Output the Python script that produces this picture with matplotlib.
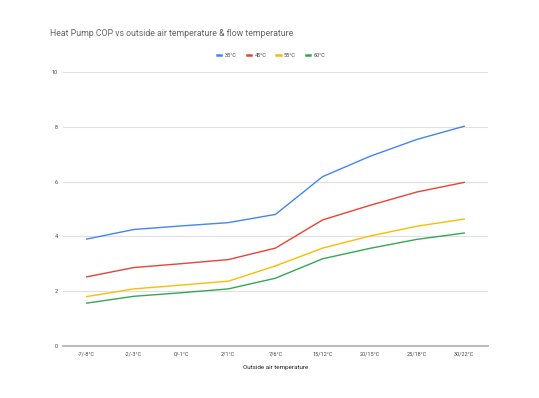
import numpy as np
import matplotlib.pyplot as plt

plt.rcParams['font.family'] = ['Roboto', 'DejaVu Sans']

categories = ["-7/-8°C", "-2/-3°C", "0/-1°C", "2/1°C", "7/6°C",
              "15/12°C", "20/15°C", "25/18°C", "30/22°C"]
cop_35 = [3.90, 4.25, 4.38, 4.50, 4.80, 6.18, 6.92, 7.54, 8.02]
cop_45 = [2.52, 2.86, 3.00, 3.15, 3.57, 4.60, 5.13, 5.62, 5.97]
cop_55 = [1.80, 2.08, 2.22, 2.36, 2.92, 3.57, 4.01, 4.37, 4.63]
cop_60 = [1.56, 1.81, 1.94, 2.08, 2.47, 3.18, 3.56, 3.89, 4.12]

series = [("35°C", cop_35, "#4285F4"), ("45°C", cop_45, "#EA4335"),
          ("55°C", cop_55, "#FBBC04"), ("60°C", cop_60, "#34A853")]

fig = plt.figure(figsize=(5.39, 3.98), dpi=100)
ax = fig.add_axes([0.117, 0.131, 0.788, 0.688])

x = np.arange(len(categories))
for name, vals, col in series:
    ax.plot(x, vals, color=col, lw=1.0, label=name)

ax.set_xlim(-0.5, len(categories) - 0.5)
ax.set_ylim(0, 10)
ax.set_yticks([0, 2, 4, 6, 8, 10])
ax.set_xticks(x)
ax.set_xticklabels(categories)
ax.tick_params(length=0, labelsize=4, colors="#444444", pad=4)
ax.grid(axis="y", color="#e0e0e0", lw=0.8)
ax.set_axisbelow(True)
for s in ["top", "right", "left"]:
    ax.spines[s].set_visible(False)
ax.spines["bottom"].set_color("#bdbdbd")
ax.spines["bottom"].set_linewidth(1.5)

ax.set_xlabel("Outside air temperature", fontsize=4.5, color="#222222", labelpad=6)
fig.text(0.093, 0.917, "Heat Pump COP vs outside air temperature & flow temperature",
         fontsize=6.3, color="#666666", va="center")
leg = ax.legend(loc="center", bbox_to_anchor=(0.49, 1.062), ncol=4, frameon=False,
                fontsize=4, handlelength=0.8, handletextpad=0.6, columnspacing=1.8,
                labelcolor="#444444")
for h in leg.get_lines():
    h.set_linewidth(1.8)

fig.savefig("out.png", dpi=100, facecolor="white")
